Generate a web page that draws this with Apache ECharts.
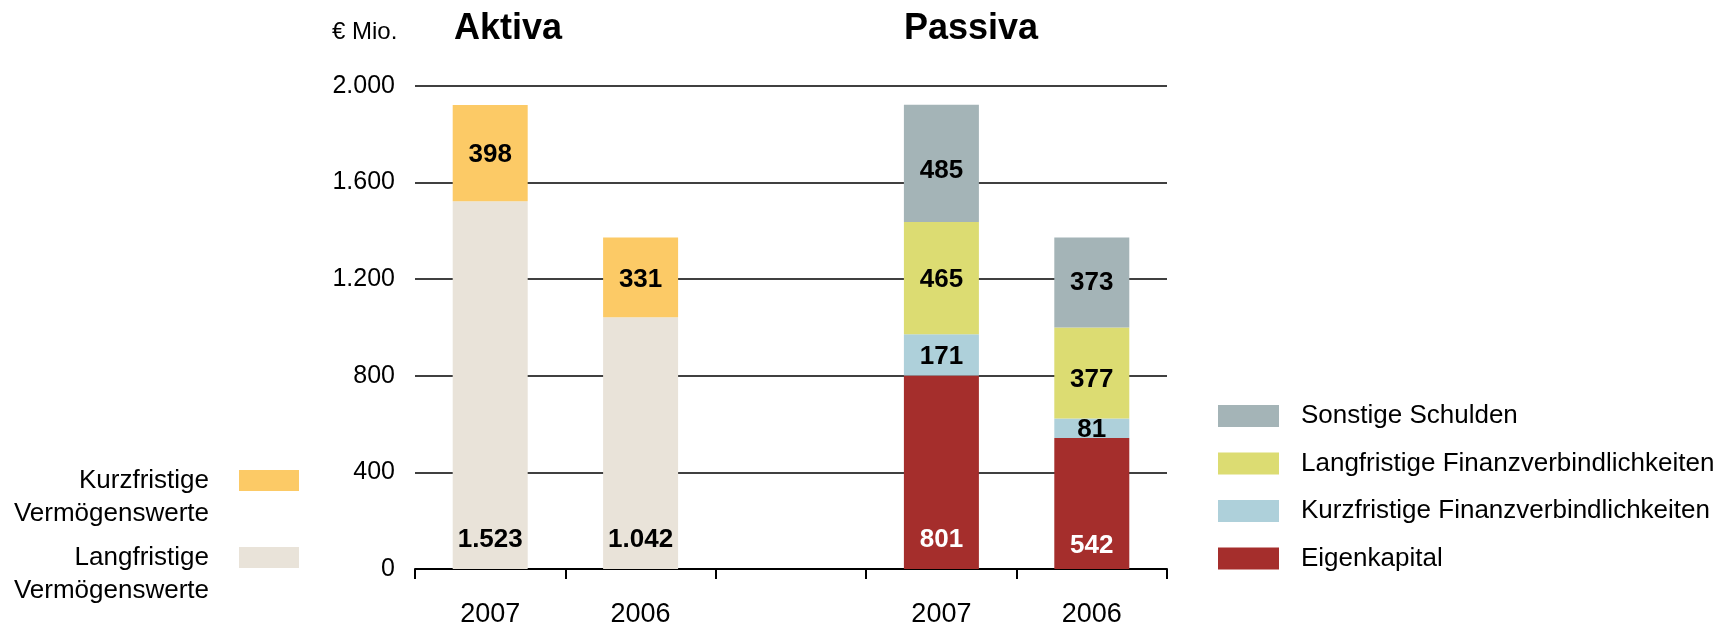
<!DOCTYPE html>
<html>
<head>
<meta charset="utf-8">
<script src="https://cdn.jsdelivr.net/npm/echarts@6/dist/echarts.min.js"></script>
<style>
  html, body { margin: 0; padding: 0; background: #fff; }
  #main { width: 1735px; height: 632px; }
</style>
</head>
<body>
<div id="main"></div>
<script>
// Bilanzstruktur, € Mio.
const years = ['2007', '2006', '', '2007', '2006']
const yTicks = [0, 400, 800, 1200, 1600, 2000]

// Aktiva
const langfrVerm = [1523, 1042, '-', '-', '-']
const kurzfrVerm = [398, 331, '-', '-', '-']
// Passiva
const eigenkapital = ['-', '-', '-', 801, 542]
const kurzfrFin = ['-', '-', '-', 171, 81]
const langfrFin = ['-', '-', '-', 465, 377]
const sonstige = ['-', '-', '-', 485, 373]

const FONT = 'Liberation Sans, Arial, sans-serif'

function fmt(v) {
  return String(v).replace(/\B(?=(\d{3})+(?!\d))/g, '.')
}

// shifts: label nudges per bar index (the original labels are not all centred)
function barSeries(name, data, color, label, shifts) {
  return {
    name: name,
    type: 'bar',
    stack: 'bilanz',
    barWidth: 75,
    data: data.map((v, i) => shifts && shifts[i] ? { value: v, label: { offset: [0, shifts[i]] } } : v),
    itemStyle: { color: color },
    label: Object.assign({
      show: true,
      position: 'inside',
      offset: [0, 2],
      fontFamily: FONT,
      fontSize: 26,
      fontWeight: 'bold',
      color: '#000',
      formatter: p => fmt(p.value)
    }, label || {})
  }
}

// left legend: swatch sits beside the first line of the two-line name
function leftLegend(name, top) {
  return {
    data: [name],
    right: 1436, top: top, padding: 0,
    align: 'right', orient: 'vertical', icon: 'rect',
    itemWidth: 60, itemHeight: 21, selectedMode: false,
    formatter: n => '\n' + n.replace(' ', '\n'),
    textStyle: { fontSize: 26, lineHeight: 33, color: '#000', padding: [0, 25, 0, 0], fontFamily: FONT }
  }
}

let chart = echarts.init(document.getElementById('main'))
chart.setOption({
  animation: false,
  textStyle: { fontFamily: FONT },
  title: [
    { text: '€ Mio.', left: 327, top: 15, textStyle: { fontSize: 24, fontWeight: 'normal', color: '#000', fontFamily: FONT } },
    { text: 'Aktiva', left: 449, top: 6, textStyle: { fontSize: 36, fontWeight: 'bold', color: '#000', fontFamily: FONT } },
    { text: 'Passiva', left: 899, top: 6, textStyle: { fontSize: 36, fontWeight: 'bold', color: '#000', fontFamily: FONT } }
  ],
  legend: [
    leftLegend('Kurzfristige Vermögenswerte', 431),
    leftLegend('Langfristige Vermögenswerte', 508),
    {
      data: ['Sonstige Schulden', 'Langfristige Finanzverbindlichkeiten', 'Kurzfristige Finanzverbindlichkeiten', 'Eigenkapital'],
      left: 1218, top: 401, padding: 0,
      orient: 'vertical', icon: 'rect',
      itemWidth: 61, itemHeight: 22, itemGap: 17.5, selectedMode: false,
      textStyle: { fontSize: 26, lineHeight: 30, color: '#000', padding: [0, 0, 0, 17], fontFamily: FONT }
    }
  ],
  grid: { left: 415, right: 568, top: 86, bottom: 63 },
  xAxis: {
    type: 'category',
    data: years,
    axisLine: { lineStyle: { color: '#000', width: 2 } },
    axisTick: { show: true, length: 10, lineStyle: { color: '#000', width: 2 } },
    axisLabel: { fontSize: 27, color: '#000', margin: 32, fontFamily: FONT }
  },
  yAxis: {
    type: 'value',
    min: yTicks[0],
    max: yTicks[yTicks.length - 1],
    interval: yTicks[1] - yTicks[0],
    axisLine: { show: false },
    axisTick: { show: false },
    axisLabel: { fontSize: 25, color: '#000', margin: 20, formatter: v => fmt(v), fontFamily: FONT },
    splitLine: { lineStyle: { color: '#000', width: 1.5 } }
  },
  series: [
    barSeries('Langfristige Vermögenswerte', langfrVerm, '#e9e3d9', { position: 'insideBottom', distance: 16, offset: [0, 0] }),
    barSeries('Kurzfristige Vermögenswerte', kurzfrVerm, '#fcca66'),
    barSeries('Eigenkapital', eigenkapital, '#a52e2c', { position: 'insideBottom', distance: 16, offset: [0, 0], color: '#fff' }, { 4: 6 }),
    barSeries('Kurzfristige Finanzverbindlichkeiten', kurzfrFin, '#aed0da'),
    barSeries('Langfristige Finanzverbindlichkeiten', langfrFin, '#dcdc72', null, { 4: 7 }),
    barSeries('Sonstige Schulden', sonstige, '#a4b4b7', null, { 3: 7, 4: 0.01 })
  ]
})
</script>
</body>
</html>
